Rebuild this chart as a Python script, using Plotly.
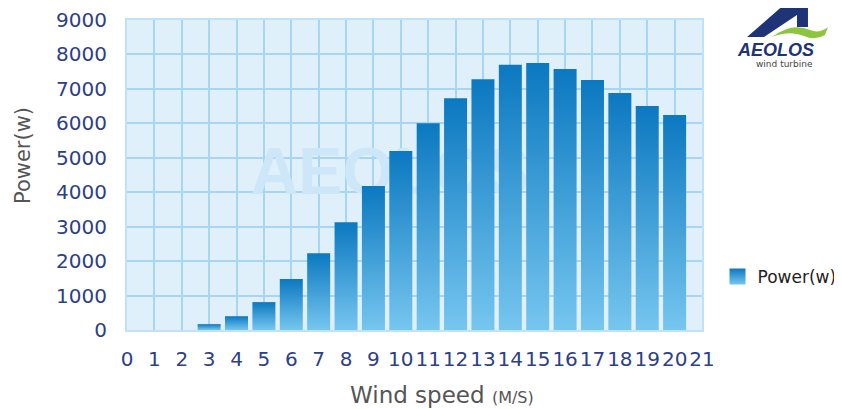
import plotly.graph_objects as go

speeds = list(range(0, 21))
power = [0, 0, 0, 170, 400, 810, 1480, 2230, 3130, 4180, 5200,
         6000, 6730, 7280, 7700, 7750, 7580, 7260, 6880, 6500, 6240]
x_ticks = list(range(0, 22))
y_ticks = list(range(0, 9001, 1000))

# page has an 8px body margin, so the figure is shrunk to fit the window
PAD = 8
W, H = 842 - PAD, 409 - PAD
L, R, T, B = 127 - PAD, 140, 20 - PAD, 79
bar_w = 0.84

dark = "#0b78c0"
light = "#76c6ef"
tick_col = "#2c4088"


def px_to_paper(x, y):
    # x, y are screen pixels of the 842x409 picture
    x, y = x - PAD, y - PAD
    return (x - L) / (W - L - R), (H - B - y) / (H - T - B)


def path_paper(cmds):
    out = []
    for c in cmds:
        if isinstance(c, str):
            out.append(c)
        else:
            px, py = px_to_paper(*c)
            out.append(f"{px:.4f},{py:.4f}")
    return " ".join(out)


def note(x, y, text, font, **kw):
    px, py = px_to_paper(x, y)
    fig.add_annotation(x=px, y=py, xref="paper", yref="paper", showarrow=False,
                       xanchor="center", yanchor="middle", text=text, font=font, **kw)


fig = go.Figure()

# watermark behind the bars
fig.add_trace(go.Scatter(
    x=[9.6], y=[4420], mode="text", text=["AEOLOS"],
    textfont=dict(family="Liberation Sans", size=66, color="#cde6f8", weight="bold"),
    showlegend=False, hoverinfo="skip",
))

for s, p in zip(speeds, power):
    if p <= 0:
        continue
    x0, x1 = s - bar_w / 2, s + bar_w / 2
    fig.add_trace(go.Scatter(
        x=[x0, x0, x1, x1, x0], y=[0, p, p, 0, 0],
        mode="lines", fill="toself", line=dict(width=0),
        fillgradient=dict(type="vertical", colorscale=[[0, light], [1, dark]]),
        name="Power(w)", legendgroup="power", showlegend=False,
        hovertemplate=f"{s} m/s: {p} W<extra></extra>",
    ))

# legend entry only
fig.add_trace(go.Scatter(
    x=[None], y=[None], mode="markers", name="Power(w)", legendgroup="power",
    marker=dict(symbol="square", size=16, color=dark, line=dict(width=0),
                gradient=dict(type="vertical", color=light)),
))

fig.update_layout(
    width=W, height=H,
    margin=dict(l=L, r=R, t=T, b=B, autoexpand=False),
    paper_bgcolor="white", plot_bgcolor="#e0f0fb",
    font=dict(family="DejaVu Sans"),
    showlegend=True,
    legend=dict(x=1.027, y=0.171, xanchor="left", yanchor="middle",
                font=dict(size=17, color="#222222"), itemwidth=30),
    xaxis=dict(range=[0, 21], tickvals=x_ticks, showgrid=True, tickangle=0,
               gridcolor="#a6d6f4", gridwidth=1.5, zeroline=False,
               showline=True, linecolor="#bfe2f8", linewidth=2, mirror=True,
               tickfont=dict(size=20, color=tick_col), ticklabelstandoff=10),
    yaxis=dict(range=[0, 9000], tickvals=y_ticks, showgrid=True,
               gridcolor="#a6d6f4", gridwidth=1.5, zeroline=False,
               showline=True, linecolor="#bfe2f8", linewidth=2, mirror=True,
               tickfont=dict(size=20, color=tick_col), ticklabelstandoff=14),
)

# axis titles
note(442, 395, "Wind speed <span style='font-size:16px'>(M/S)</span>",
     dict(size=23, color="#555555"))
note(23, 156, "Power(w)", dict(size=21, color="#555555"), textangle=-90)

# logo
fig.add_shape(type="path", xref="paper", yref="paper", line=dict(width=0),
              fillcolor="#1f3377",
              path=path_paper(["M", (747, 37), "L", (786, 3), "L", (808, 3),
                               "L", (808, 27), "L", (797, 27), "L", (797, 15),
                               "L", (764, 37), "Z"]))
fig.add_shape(type="path", xref="paper", yref="paper", line=dict(width=0),
              fillcolor="#8cc63f",
              path=path_paper(["M", (772, 37), "Q", (792, 22), (810, 30),
                               "Q", (819, 34), (828, 27), "L", (825, 35),
                               "Q", (815, 41), (804, 36), "Q", (790, 30), (772, 37), "Z"]))
note(775, 50, "<b><i>AEOLOS</i></b>",
     dict(family="Liberation Sans", size=18, color="#1f3377"))
note(784, 64, "wind turbine", dict(family="DejaVu Sans", size=9, color="#444444"))

fig.write_html("out.html")
